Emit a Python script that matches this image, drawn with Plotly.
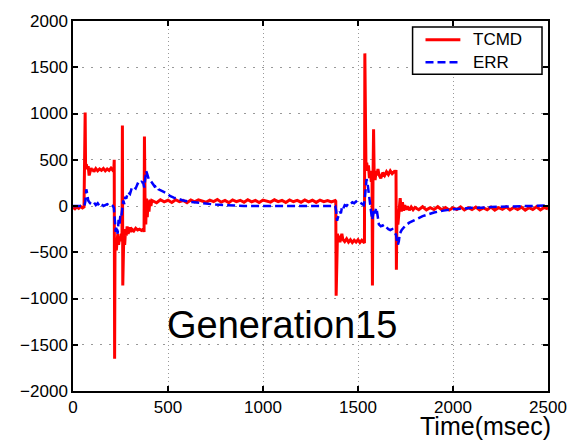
import plotly.graph_objects as go

# ---------------- data ----------------
# TCMD (red, solid): (time in msec, value)
tcmd_seg1 = [(0, -15), (10, -30), (20, -10), (30, -25), (40, -5), (50, -20), (58, -10),
             (62, 1000), (64, 1010), (66, 470), (68, 420), (70, 450), (75, 400), (80, 430),
             (85, 330), (90, 380), (95, 410), (100, 380), (105, 400), (110, 370), (120, 405),
             (130, 380), (140, 400), (150, 385), (160, 405), (170, 380), (180, 400), (190, 385),
             (200, 410), (210, 385), (215, 400)]
tcmd_seg2 = [(217, 500), (219, -1650), (221, -500), (224, -350), (228, -480), (232, -380),
             (236, -300), (240, -420), (245, -330), (250, -380), (255, -300), (258, -340),
             (260, 870), (262, -860), (264, -300), (268, -250), (272, -420), (276, -280),
             (280, -320), (285, -220), (290, -300), (295, -260), (300, -230), (305, -280),
             (310, -250), (320, -270), (330, -240), (340, -260), (350, -250), (360, -265),
             (370, -250), (374, -280), (376, 750), (379, 100), (383, -200), (387, 80),
             (391, -120), (395, 60), (400, -60), (405, 70), (410, 0), (415, 60)]
tcmd_hold = [(420, 55), (440, 35), (460, 68), (480, 45), (500, 62), (520, 38), (540, 68),
             (560, 48), (580, 60), (600, 35), (620, 64), (640, 44), (660, 66), (680, 50),
             (700, 40), (720, 64), (740, 47), (760, 70), (780, 42), (800, 60), (820, 36),
             (840, 66), (860, 48), (880, 62), (900, 40), (920, 68), (940, 45), (960, 60),
             (980, 38), (1000, 64), (1020, 50), (1040, 42), (1060, 67), (1080, 47),
             (1100, 61), (1120, 37), (1140, 65), (1160, 46), (1180, 60), (1200, 41),
             (1220, 66), (1240, 45), (1260, 62), (1280, 39), (1300, 64), (1320, 47),
             (1340, 58), (1360, 43), (1380, 58)]
tcmd_seg3 = [(1383, 50), (1385, -970), (1388, -400), (1392, -300), (1396, -380), (1400, -320),
             (1405, -390), (1410, -340), (1415, -300), (1420, -360), (1430, -385), (1440, -355),
             (1450, -390), (1460, -365), (1470, -395), (1480, -370), (1490, -390), (1500, -365),
             (1510, -395), (1520, -370), (1530, -385), (1534, -400), (1536, 1650), (1538, 500),
             (1542, 420), (1546, 470), (1550, 380), (1555, 440), (1560, 300), (1565, 380),
             (1570, 260), (1574, 350), (1576, -860), (1579, 300), (1582, 830), (1585, 350),
             (1590, 280), (1595, 380), (1600, 330), (1605, 400), (1610, 340), (1620, 300),
             (1630, 360), (1640, 330), (1650, 370), (1660, 340), (1670, 380), (1680, 350),
             (1690, 370), (1697, 360), (1700, 390), (1702, -690), (1705, -100), (1710, -200),
             (1715, -50), (1722, 85), (1728, -60), (1734, 40), (1740, -50), (1746, 10)]
tcmd_tail = [(1752, -40), (1760, -5), (1770, -45), (1780, -10), (1790, -40), (1800, -15),
             (1820, -40), (1840, -8), (1860, -42), (1880, -18), (1900, -38), (1920, -8),
             (1940, -40), (1960, -16), (1980, -44), (2000, -18), (2020, -38), (2040, -10),
             (2060, -42), (2080, -18), (2100, -38), (2120, -12), (2140, -42), (2160, -20),
             (2180, -40), (2200, -12), (2220, -44), (2240, -18), (2260, -36), (2280, -10),
             (2300, -42), (2320, -16), (2340, -38), (2360, -12), (2380, -44), (2400, -18),
             (2420, -37), (2440, -8), (2460, -42), (2480, -16), (2500, -32)]

# ERR (blue, dashed): (time in msec, value)
err_points = [(0, 0), (20, 0), (40, 0), (60, 0), (65, 50), (70, 180), (75, 130), (80, 60),
              (90, 30), (100, 20), (110, 40), (120, 10), (130, 30), (140, 0), (150, 20),
              (160, 0), (170, 10), (180, 20), (190, 5), (200, 15), (210, 0), (215, -20),
              (220, -150), (225, -280), (230, -220), (235, -300), (240, -150), (245, -200),
              (250, -80), (255, -100), (260, -20), (265, 60), (270, 20), (275, 100), (280, 80),
              (290, 150), (300, 130), (310, 200), (320, 210), (330, 190), (340, 240),
              (350, 230), (360, 260), (370, 250), (375, 200), (380, 320), (385, 380),
              (390, 350), (395, 300), (400, 280), (410, 270), (420, 240), (430, 210),
              (440, 220), (450, 180), (470, 160), (490, 140), (510, 110), (530, 90), (550, 80),
              (580, 60), (620, 45), (660, 35), (700, 25), (750, 15), (800, 10), (850, 5),
              (900, 0), (1000, 0), (1100, 0), (1200, 0), (1300, 0), (1380, 0), (1385, -50),
              (1390, -160), (1395, -120), (1400, -100), (1405, -60), (1410, -80), (1415, -20),
              (1420, -40), (1430, 10), (1440, 0), (1450, 30), (1460, 20), (1470, 40),
              (1480, 30), (1490, 50), (1500, 30), (1510, 40), (1520, 20), (1530, 10),
              (1535, 60), (1540, 200), (1545, 290), (1550, 250), (1555, 150), (1560, 60),
              (1565, 0), (1570, -80), (1575, -150), (1580, -100), (1585, -30), (1590, -80),
              (1595, -20), (1600, -60), (1605, -150), (1610, -200), (1620, -220), (1630, -210),
              (1640, -240), (1650, -230), (1660, -250), (1670, -260), (1680, -250),
              (1690, -280), (1700, -310), (1705, -380), (1710, -420), (1715, -380),
              (1720, -300), (1730, -260), (1740, -230), (1750, -210), (1770, -180),
              (1790, -160), (1810, -140), (1840, -110), (1870, -90), (1900, -70), (1950, -50),
              (2000, -35), (2050, -30), (2100, -20), (2150, -20), (2200, -10), (2300, -5),
              (2400, 0), (2450, 10), (2500, 5)]

x_ticks = [0, 500, 1000, 1500, 2000, 2500]
y_ticks = [-2000, -1500, -1000, -500, 0, 500, 1000, 1500, 2000]
series_names = ["TCMD", "ERR"]
series_colors = ["#ff0000", "#0000ff"]
x_label = "Time(msec)"
panel_label = "Generation15"

# ---------------- figure ----------------
tcmd = tcmd_seg1 + tcmd_seg2 + tcmd_hold + tcmd_seg3 + tcmd_tail
tcmd_t = [p[0] for p in tcmd]
tcmd_v = [p[1] for p in tcmd]
err_t = [p[0] for p in err_points]
err_v = [p[1] for p in err_points]

FONT = "Liberation Sans, Arial, sans-serif"
ERR_DASH = "8px,4px"

fig = go.Figure()
fig.add_trace(go.Scatter(x=tcmd_t, y=tcmd_v, mode="lines", name=series_names[0],
                         line=dict(color=series_colors[0], width=3)))
fig.add_trace(go.Scatter(x=err_t, y=err_v, mode="lines", name=series_names[1],
                         line=dict(color=series_colors[1], width=2.5, dash=ERR_DASH)))

axis_common = dict(showline=True, linecolor="black", linewidth=1.5, mirror="ticks",
                   ticks="inside", ticklen=5, tickwidth=1.5, tickcolor="black",
                   showgrid=True, gridcolor="#999999", gridwidth=1, zeroline=False,
                   tickfont=dict(family=FONT, size=17, color="black"))

fig.update_xaxes(range=[0, 2500], tickvals=x_ticks, griddash="1px,3px", **axis_common)
fig.update_yaxes(range=[-2000, 2000], tickvals=y_ticks, griddash="2px,7px", **axis_common)

# legend box drawn in paper coordinates (top-right corner of the plot)
leg_x0, leg_x1, leg_y0, leg_y1 = 0.7149, 0.9874, 0.8564, 0.9840
line_x0, line_x1, text_x = 0.7421, 0.8155, 0.8386
row_y = [0.9495, 0.8883]

shapes = [dict(type="rect", xref="paper", yref="paper", x0=leg_x0, x1=leg_x1,
               y0=leg_y0, y1=leg_y1, line=dict(color="black", width=1.5),
               fillcolor="white", layer="above")]
annotations = []
dashes = ["solid", ERR_DASH]
widths = [3, 2.5]
for name, color, dash, w, yy in zip(series_names, series_colors, dashes, widths, row_y):
    shapes.append(dict(type="line", xref="paper", yref="paper", x0=line_x0, x1=line_x1,
                       y0=yy, y1=yy, line=dict(color=color, width=w, dash=dash),
                       layer="above"))
    annotations.append(dict(text=name, x=text_x, y=yy, xref="paper", yref="paper",
                            xanchor="left", yanchor="middle", showarrow=False,
                            font=dict(family=FONT, size=17, color="black")))

annotations += [
    dict(text=x_label, x=1.01, y=-0.138, xref="paper", yref="paper",
         xanchor="right", yanchor="bottom", showarrow=False,
         font=dict(family=FONT, size=25, color="black")),
    dict(text=panel_label, x=1100, y=-1290, xref="x", yref="y",
         xanchor="center", yanchor="middle", showarrow=False,
         font=dict(family=FONT, size=38, color="black")),
]

fig.update_layout(
    width=579, height=443,
    margin=dict(l=73, r=29, t=15, b=52),
    paper_bgcolor="white", plot_bgcolor="white",
    font=dict(family=FONT, color="black"),
    showlegend=False,
    shapes=shapes,
    annotations=annotations,
)

fig.write_html("out.html")
